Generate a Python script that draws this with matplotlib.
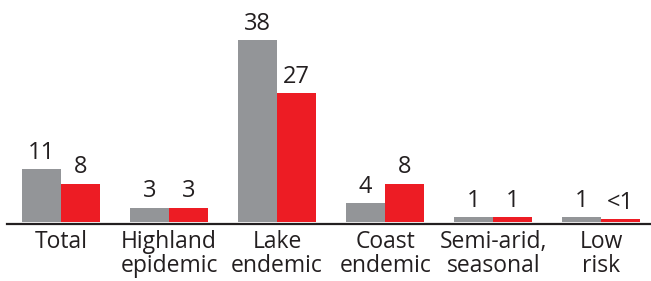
import matplotlib

matplotlib.use("Agg")
import matplotlib.pyplot as plt
import numpy as np

categories = ["Total", "Highland\nepidemic", "Lake\nendemic", "Coast\nendemic",
              "Semi-arid,\nseasonal", "Low\nrisk"]
gray_values = [11, 3, 38, 4, 1, 1]
red_values = [8, 3, 27, 8, 1, 0.5]
gray_labels = ["11", "3", "38", "4", "1", "1"]
red_labels = ["8", "3", "27", "8", "1", "<1"]

GRAY = "#939598"
RED = "#ED1C24"
TEXT = "#231F20"

plt.rcParams["font.family"] = ["Open Sans", "DejaVu Sans"]

fig = plt.figure(figsize=(6.51, 2.81), dpi=100)
ax = fig.add_axes([7 / 651, 57 / 281, 1 - 7 / 651, 224 / 281])

x = np.arange(len(categories))
w = 0.36
b1 = ax.bar(x - w / 2, gray_values, w, color=GRAY, zorder=3)
b2 = ax.bar(x + w / 2, red_values, w, color=RED, zorder=3)
ax.bar_label(b1, labels=gray_labels, padding=3, fontsize=17, color=TEXT)
ax.bar_label(b2, labels=red_labels, padding=3, fontsize=17, color=TEXT)

ax.set_xlim(-0.5, 5.46)
ax.set_ylim(-0.45, 46.4)
ax.set_xticks(x)
ax.set_xticklabels(categories, fontsize=16.5, color=TEXT, linespacing=1.0)
ax.tick_params(axis="x", length=0, pad=4)
ax.set_yticks([])
for s in ["top", "right", "left"]:
    ax.spines[s].set_visible(False)
ax.spines["bottom"].set_linewidth(1.6)
ax.spines["bottom"].set_color(TEXT)

fig.savefig("out.png", dpi=100)
